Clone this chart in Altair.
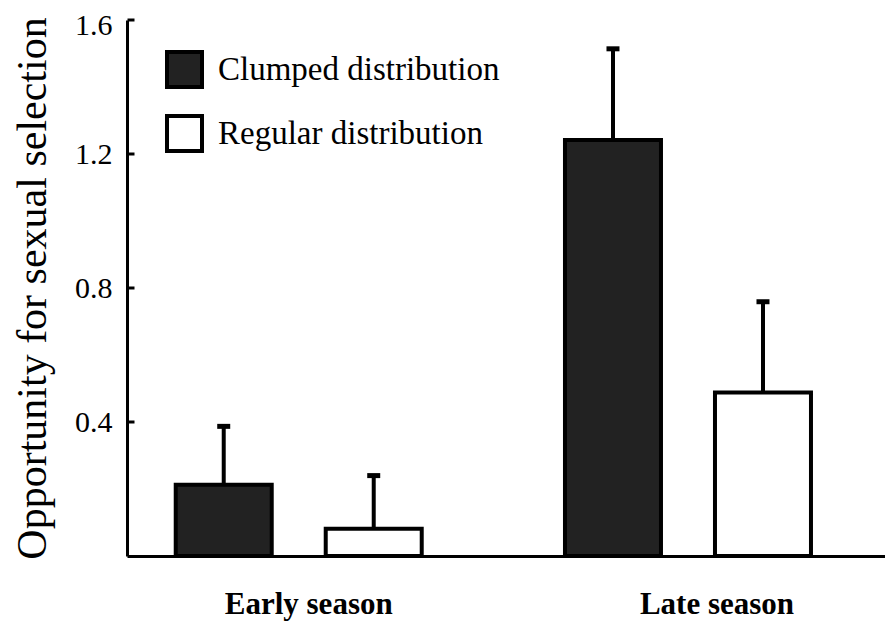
import altair as alt
import pandas as pd

seasons = ["Early season", "Early season", "Late season", "Late season"]
distributions = ["Clumped distribution", "Regular distribution",
                 "Clumped distribution", "Regular distribution"]
means = [0.213, 0.081, 1.242, 0.488]
errors = [0.174, 0.159, 0.272, 0.271]
y_ticks = [0.4, 0.8, 1.2, 1.6]

season_order = ["Early season", "Late season"]
dist_order = ["Clumped distribution", "Regular distribution"]

df = pd.DataFrame({"season": seasons, "dist": distributions, "mean": means, "err": errors})
df["upper"] = df["mean"] + df["err"]
ticks_df = pd.DataFrame({"v": y_ticks})

FONT = "Liberation Serif"
TITLE = "Opportunity for sexual selection"

x_scale = alt.Scale(paddingInner=0.2293, paddingOuter=0.0883, align=0.316)
x_enc = alt.X(
    "season:N", sort=season_order, title=None, scale=x_scale,
    axis=alt.Axis(
        labelAngle=0, ticks=False, domainWidth=3, domainColor="black",
        labelFontSize=31, labelFontWeight="bold", labelColor="black",
        labelPadding=33, labelLimit=400,
        labelOffset={"condition": {"test": "datum.value == 'Early season'", "value": 10}, "value": 29},
    ),
)
xoff = alt.XOffset("dist:N", sort=dist_order, scale=alt.Scale(paddingInner=0.36, paddingOuter=0.18))

y_scale = alt.Scale(domain=[0, 1.6], nice=False, zero=True)
y_axis = alt.Axis(
    values=y_ticks, format=".1f", ticks=False, grid=False, domainWidth=3, domainColor="black",
    labelFontSize=30, labelColor="black", labelPadding=15,
    labelOffset={"condition": {"test": "datum.value == 1.6", "value": 5}, "value": 0},
    titleFontSize=42, titleFontWeight="normal", titleColor="black", titlePadding=20,
)

color = alt.Color(
    "dist:N", sort=dist_order,
    scale=alt.Scale(domain=dist_order, range=["#222222", "#ffffff"]),
    legend=alt.Legend(
        title=None, orient="none", legendX=38, legendY=30, symbolType="square",
        symbolSize=1225, symbolStrokeColor="black", symbolStrokeWidth=4, symbolOpacity=1,
        labelFontSize=33, labelColor="black", labelOffset=14,
        labelLimit=500, rowPadding=13, padding=0,
    ),
)

bars = alt.Chart(df).mark_bar(stroke="black", strokeWidth=4, opacity=1).encode(
    x=x_enc, xOffset=xoff,
    y=alt.Y("mean:Q", title=TITLE, scale=y_scale, axis=y_axis),
    color=color,
)

err = alt.Chart(df).mark_rule(color="black", strokeWidth=4).encode(
    x=alt.X("season:N", sort=season_order),
    xOffset=alt.XOffset("dist:N", sort=dist_order),
    y=alt.Y("mean:Q", title=TITLE),
    y2="upper:Q",
)

caps = alt.Chart(df).mark_tick(color="black", size=13, thickness=5, orient="horizontal", opacity=1).encode(
    x=alt.X("season:N", sort=season_order),
    xOffset=alt.XOffset("dist:N", sort=dist_order),
    y=alt.Y("upper:Q", title=TITLE),
)

yt = alt.Chart(ticks_df).mark_tick(color="black", thickness=3, size=7, orient="horizontal", opacity=1).encode(
    y=alt.Y("v:Q", title=TITLE),
    x=alt.value(4),
)

chart = alt.layer(bars, err, caps, yt).properties(
    width=758, height=536,
    autosize=alt.AutoSizeParams(type="none"),
    padding={"left": 119, "top": 12, "right": 0, "bottom": 65},
    background="white",
).configure(font=FONT).configure_axis(
    labelFont=FONT, titleFont=FONT
).configure_legend(labelFont=FONT).configure_view(stroke=None)

chart.save("out.html", embed_options={"renderer": "svg", "actions": False})
